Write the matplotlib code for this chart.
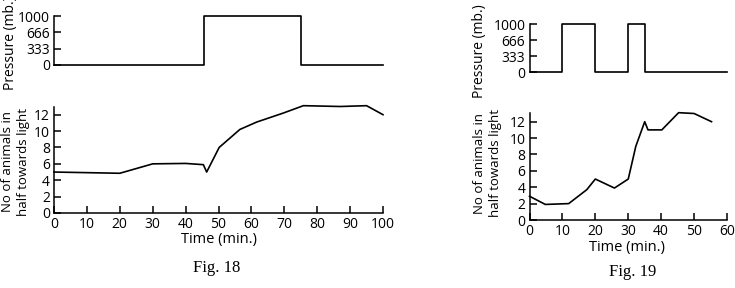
import matplotlib
matplotlib.use('Agg')
import matplotlib.pyplot as plt

# Fig. 18 data
p18_time = [0, 45.5, 45.5, 75, 75, 100]
p18_pressure = [0, 0, 1000, 1000, 0, 0]
n18_time = [0, 20, 30, 40, 45.4, 46.4, 50.2, 56.5, 61.6, 69.7, 75.8, 87, 95, 100]
n18_count = [5, 4.85, 6, 6.05, 5.9, 5.0, 8, 10.2, 11.1, 12.2, 13.1, 13, 13.1, 12]

# Fig. 19 data
p19_time = [0, 10, 10, 20, 20, 30, 30, 35, 35, 60]
p19_pressure = [0, 0, 1000, 1000, 0, 0, 1000, 1000, 0, 0]
n19_time = [0, 4.8, 11.9, 17.4, 20, 25.8, 30, 32.3, 35, 36, 40.2, 45.3, 50, 55.3]
n19_count = [2.9, 1.9, 2, 3.7, 5, 3.9, 5, 9, 12, 11, 11, 13.1, 13, 12]

pressure_ticks = [0, 333, 666, 1000]
count_ticks = [0, 2, 4, 6, 8, 10, 12]

W, H = 735, 288
plt.rcParams['font.family'] = ['Open Sans', 'DejaVu Sans']
plt.rcParams['font.size'] = 10

fig = plt.figure(figsize=(W / 100, H / 100), dpi=100)


def px_axes(x0, x1, ytop, ybot):
    return fig.add_axes([x0 / W, 1 - ybot / H, (x1 - x0) / W, (ybot - ytop) / H])


def style(ax, bottom=True):
    for s in ['top', 'right']:
        ax.spines[s].set_visible(False)
    if not bottom:
        ax.spines['bottom'].set_visible(False)
        ax.set_xticks([])
    for s in ax.spines.values():
        s.set_linewidth(1.1)
    ax.tick_params(direction='in', length=5, width=1.1, pad=3, labelsize=10)
    ax.patch.set_alpha(0)


def panel(x0, x1, top_ys, bot_ys, pt, pv, nt, nv, xmax, xticks):
    a1 = px_axes(x0, x1, *top_ys)
    a1.plot(pt, pv, color='black', lw=1.2, clip_on=False)
    a1.set_xlim(0, xmax)
    a1.set_ylim(0, 1000)
    a1.set_yticks(pressure_ticks)
    style(a1, bottom=False)

    a2 = px_axes(x0, x1, *bot_ys)
    a2.plot(nt, nv, color='black', lw=1.2, clip_on=False)
    a2.set_xlim(0, xmax)
    a2.set_ylim(0, 13)
    a2.set_xticks(xticks)
    a2.set_yticks(count_ticks)
    style(a2)
    return a1, a2


panel(54, 383, (16, 65), (106.5, 213), p18_time, p18_pressure,
      n18_time, n18_count, 100, range(0, 101, 10))
panel(529.5, 727, (24, 72), (113.5, 220), p19_time, p19_pressure,
      n19_time, n19_count, 60, range(0, 61, 10))


def ftext(x, y, s, **kw):
    fig.text(x / W, 1 - y / H, s, **kw)


# axis labels
ftext(11, 90, 'Pressure (mb.)', rotation=90, ha='center', va='bottom', fontsize=10)
ftext(8, 162, 'No of animals in', rotation=90, ha='center', va='center', fontsize=9.5)
ftext(23, 162, 'half towards light', rotation=90, ha='center', va='center', fontsize=9.5)
ftext(219, 240, 'Time (min.)', ha='center', va='center', fontsize=10.5)
ftext(217, 268, 'Fig. 18', ha='center', va='center', fontsize=12, family='Liberation Serif')

ftext(480, 98, 'Pressure (mb.)', rotation=90, ha='center', va='bottom', fontsize=10)
ftext(480, 163, 'No of animals in', rotation=90, ha='center', va='center', fontsize=9.5)
ftext(496, 163, 'half towards light', rotation=90, ha='center', va='center', fontsize=9.5)
ftext(627, 248, 'Time (min.)', ha='center', va='center', fontsize=10.5)
ftext(633, 272, 'Fig. 19', ha='center', va='center', fontsize=12, family='Liberation Serif')

fig.savefig('out.png', dpi=100)
